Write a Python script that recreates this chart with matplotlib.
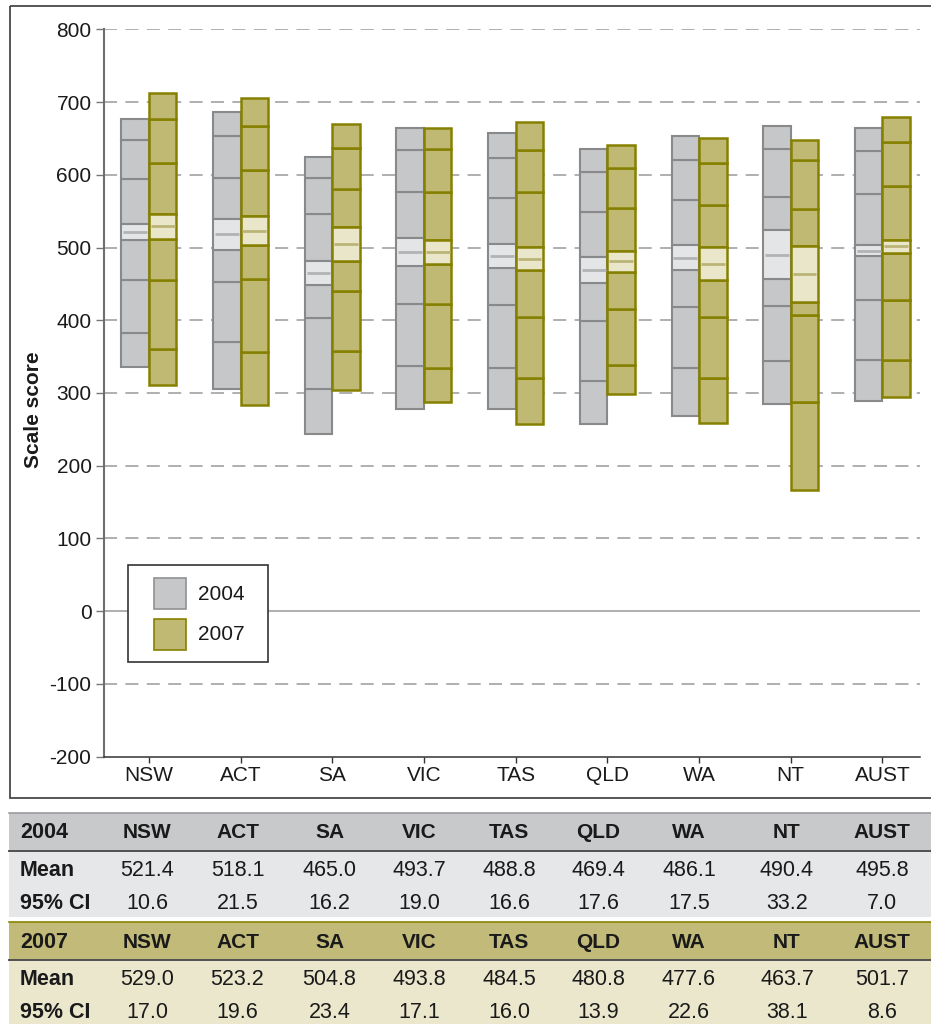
import matplotlib
matplotlib.use("Agg")
import matplotlib.pyplot as plt
import matplotlib.transforms as mtransforms
from matplotlib.patches import Rectangle
from matplotlib.lines import Line2D
import numpy as np

plt.rcParams['font.family'] = ['Liberation Sans', 'DejaVu Sans']
plt.rcParams['axes.unicode_minus'] = False
plt.rcParams['lines.scale_dashes'] = False

# ---------------------------------------------------------------- data
states = ["NSW", "ACT", "SA", "VIC", "TAS", "QLD", "WA", "NT", "AUST"]
years = ["2004", "2007"]
y_ticks = [-200, -100, 0, 100, 200, 300, 400, 500, 600, 700, 800]

mean_2004 = [521.4, 518.1, 465.0, 493.7, 488.8, 469.4, 486.1, 490.4, 495.8]
ci_2004 = [10.6, 21.5, 16.2, 19.0, 16.6, 17.6, 17.5, 33.2, 7.0]
mean_2007 = [529.0, 523.2, 504.8, 493.8, 484.5, 480.8, 477.6, 463.7, 501.7]
ci_2007 = [17.0, 19.6, 23.4, 17.1, 16.0, 13.9, 22.6, 38.1, 8.6]

# percentile scores (5th, 10th, 25th, 75th, 90th, 95th)
p05_2004 = [336, 305, 243, 278, 278, 258, 269, 285, 289]
p10_2004 = [382, 370, 306, 337, 334, 316, 334, 344, 345]
p25_2004 = [455, 453, 403, 423, 421, 399, 418, 419, 428]
p75_2004 = [594, 595, 546, 577, 568, 549, 566, 570, 574]
p90_2004 = [648, 654, 595, 634, 623, 604, 620, 635, 633]
p95_2004 = [677, 686, 624, 664, 657, 635, 654, 667, 664]

p05_2007 = [311, 284, 304, 288, 257, 298, 259, 166, 294]
p10_2007 = [361, 357, 358, 334, 320, 339, 321, 288, 345]
p25_2007 = [455, 457, 440, 423, 404, 415, 405, 407, 428]
p75_2007 = [616, 607, 580, 577, 576, 555, 559, 553, 585]
p90_2007 = [676, 667, 637, 636, 634, 610, 616, 620, 645]
p95_2007 = [713, 705, 670, 664, 673, 641, 650, 648, 680]

# ---------------------------------------------------------------- style
W, H = 931, 1024
GRAY_FILL, GRAY_EDGE, GRAY_CI, GRAY_MEAN = "#c6c7c9", "#88898b", "#e4e5e7", "#b2b3b5"
OLIVE_FILL, OLIVE_EDGE, OLIVE_CI, OLIVE_MEAN = "#bfb974", "#868000", "#e9e6c9", "#bbb478"
BAR_W = 0.3
FS = 15

fig = plt.figure(figsize=(W / 100, H / 100), dpi=100)
pix = mtransforms.Affine2D().scale(1 / W, -1 / H).translate(0, 1) + fig.transFigure

ax = fig.add_axes([104 / W, 1 - 756.7 / H, (920 - 104) / W, (756.7 - 29.3) / H])
ax.set_ylim(-200, 800)
ax.set_xlim(-0.49, 8.41)

# horizontal reference lines
for v in y_ticks[1:]:
    if v == 0:
        ax.axhline(v, color="#9a9a9a", lw=1.1, zorder=0)
    else:
        ax.axhline(v, color="#9a9a9a", lw=1.1, zorder=0, dashes=(9.4, 6.0))

x = np.arange(len(states))


def draw_bars(offset, p05, p10, p25, p75, p90, p95, mean, ci, fill, edge, cifill, meancol, lw):
    p05, p10, p25, p75, p90, p95 = map(np.asarray, (p05, p10, p25, p75, p90, p95))
    mean, ci = np.asarray(mean), np.asarray(ci)
    lo, hi = mean - ci, mean + ci
    left = x + offset
    segs = [(p05, p10), (p10, p25), (p25, lo), (hi, p75), (p75, p90), (p90, p95)]
    for b, t in segs:
        ax.bar(left, t - b, bottom=b, width=BAR_W, align="edge", color=fill,
               edgecolor=edge, linewidth=lw, zorder=2)
    ax.bar(left, hi - lo, bottom=lo, width=BAR_W, align="edge", color=cifill,
           edgecolor=edge, linewidth=lw, zorder=2)
    ax.hlines(mean, left + 0.02, left + BAR_W - 0.02, color=meancol, lw=2.0, zorder=3)


draw_bars(-BAR_W, p05_2004, p10_2004, p25_2004, p75_2004, p90_2004, p95_2004,
          mean_2004, ci_2004, GRAY_FILL, GRAY_EDGE, GRAY_CI, GRAY_MEAN, 1.5)
draw_bars(0.0, p05_2007, p10_2007, p25_2007, p75_2007, p90_2007, p95_2007,
          mean_2007, ci_2007, OLIVE_FILL, OLIVE_EDGE, OLIVE_CI, OLIVE_MEAN, 1.8)

# axes styling
for s in ("top", "right"):
    ax.spines[s].set_visible(False)
ax.spines["left"].set_color("#6d6e70")
ax.spines["left"].set_linewidth(1.5)
ax.spines["bottom"].set_color("#333333")
ax.spines["bottom"].set_linewidth(1.1)
ax.set_yticks(y_ticks)
ax.set_yticklabels([str(v) for v in y_ticks])
ax.set_xticks(x)
ax.set_xticklabels(states)
ax.tick_params(axis="y", length=6, width=1.0, color="#777777", pad=3,
               labelsize=FS, labelcolor="#1a1a1a")
ax.tick_params(axis="x", length=4, width=1.0, color="#333333", pad=3,
               labelsize=FS, labelcolor="#1a1a1a")

fig.text(33.5 / W, 1 - 410 / H, "Scale score", rotation=90, ha="center", va="center",
         fontsize=FS, fontweight="bold", color="#1a1a1a")

# outer frame of the chart panel
fig.add_artist(Rectangle((10, 6), 930, 792, transform=pix, fill=False,
                         edgecolor="#3a3a3a", lw=1.2, zorder=1))

# legend
fig.add_artist(Rectangle((128.3, 565), 139.4, 97, transform=pix, facecolor="white",
                         edgecolor="#333333", lw=1.2, zorder=5))
for (yy, label, fc, ec) in [(578, years[0], GRAY_FILL, "#909193"),
                            (619, years[1], OLIVE_FILL, OLIVE_EDGE)]:
    fig.add_artist(Rectangle((154.3, yy), 31.4, 31, transform=pix, facecolor=fc,
                             edgecolor=ec, lw=1.2, zorder=6))
    fig.text(198, yy + 16, label, transform=pix, ha="left", va="center",
             fontsize=FS, color="#1a1a1a", zorder=7)

# summary table
col_x = [147, 237.5, 329.5, 419, 509, 598, 689, 787, 882]
tables = [
    (years[0], mean_2004, ci_2004, 812.7, 850.7, 916.7, "#c8c9cb", "#9c9c9e", "#e6e7e9"),
    (years[1], mean_2007, ci_2007, 922.3, 960.0, 1026, "#c1ba78", "#8b8400", "#eae7cd"),
]
for yr, means, cis, top, hdr_bot, body_bot, hdr_fill, hdr_line, body_fill in tables:
    fig.add_artist(Rectangle((9, top), 930, hdr_bot - top, transform=pix,
                             facecolor=hdr_fill, edgecolor="none", zorder=1))
    fig.add_artist(Rectangle((9, hdr_bot), 930, body_bot - hdr_bot, transform=pix,
                             facecolor=body_fill, edgecolor="none", zorder=1))
    fig.add_artist(Line2D([9, 940], [top, top], transform=pix, color=hdr_line, lw=1.2, zorder=2))
    fig.add_artist(Line2D([9, 940], [hdr_bot, hdr_bot], transform=pix, color="#505050",
                          lw=1.4, zorder=2))
    hy = (top + hdr_bot) / 2 + 1
    row1 = hdr_bot + 19.5
    row2 = hdr_bot + 53
    fig.text(20, hy, yr, transform=pix, ha="left", va="center", fontsize=15.5,
             fontweight="bold", color="#1a1a1a", zorder=3)
    fig.text(20, row1, "Mean", transform=pix, ha="left", va="center", fontsize=15.5,
             fontweight="bold", color="#1a1a1a", zorder=3)
    fig.text(20, row2, "95% CI", transform=pix, ha="left", va="center", fontsize=15.5,
             fontweight="bold", color="#1a1a1a", zorder=3)
    for cx, st, m, c in zip(col_x, states, means, cis):
        fig.text(cx, hy, st, transform=pix, ha="center", va="center", fontsize=15,
                 fontweight="bold", color="#1a1a1a", zorder=3)
        fig.text(cx, row1, f"{m:.1f}", transform=pix, ha="center", va="center",
                 fontsize=15.5, color="#1a1a1a", zorder=3)
        fig.text(cx, row2, f"{c:.1f}", transform=pix, ha="center", va="center",
                 fontsize=15.5, color="#1a1a1a", zorder=3)

fig.savefig("out.png", dpi=100, facecolor="white")
